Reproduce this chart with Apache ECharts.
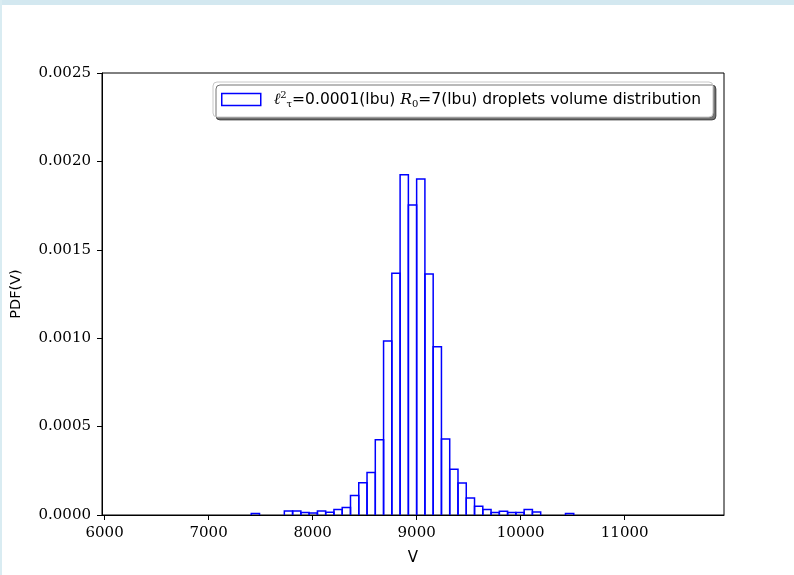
<!DOCTYPE html>
<html>
<head>
<meta charset="utf-8">
<title>Droplet volume distribution</title>
<script src="https://cdn.jsdelivr.net/npm/echarts@6/dist/echarts.min.js"></script>
<style>
  html, body { margin: 0; padding: 0; background: #ffffff; }
  #chart { width: 794px; height: 575px; }
</style>
</head>
<body>
<div id="chart"></div>
<script>
// Histogram of droplet volumes (probability density)
const binStart = 7410;      // left edge of the first bin
const binWidth = 79.5;      // bin width in volume units
const pdfValues = [
  0.000008, 0, 0, 0,
  0.0000227, 0.0000227, 0.0000136, 0.000011, 0.0000227, 0.000015,
  0.0000306, 0.0000419, 0.00011, 0.000182, 0.00024, 0.000425,
  0.000984, 0.001367, 0.001924, 0.001754, 0.0019, 0.001363,
  0.000951, 0.00043, 0.000259, 0.000181, 0.0000963, 0.0000493,
  0.0000306, 0.0000136, 0.000021, 0.0000136, 0.0000136, 0.000031,
  0.000017, 0, 0, 0, 0.000008
];
const xTicks = [6000, 7000, 8000, 9000, 10000, 11000];
const yTicks = [0, 0.0005, 0.001, 0.0015, 0.002, 0.0025];
const seriesName = 'droplets';

const binData = pdfValues.map((v, i) => [binStart + i * binWidth, binStart + (i + 1) * binWidth, v]);

const serif = 'DejaVu Serif';
const sans = 'DejaVu Sans';

const chart = echarts.init(document.getElementById('chart'), null, { renderer: 'canvas' });
chart.setOption({
  animation: false,
  backgroundColor: '#ffffff',
  graphic: [
    { type: 'rect', left: 0, top: 0, shape: { width: 794, height: 5 }, style: { fill: '#d3e8f0' }, silent: true },
    { type: 'rect', left: 0, top: 0, shape: { width: 2, height: 575 }, style: { fill: '#d9ecf2' }, silent: true }
  ],
  grid: {
    left: 102, right: 70, top: 73, bottom: 60,
    show: true, borderColor: '#000', borderWidth: 1, backgroundColor: 'transparent'
  },
  legend: {
    left: 213, top: 82,
    padding: [8, 12, 8, 8],
    itemWidth: 39, itemHeight: 12,
    backgroundColor: '#ffffff',
    borderColor: '#c8c8c8', borderWidth: 1, borderRadius: 4,
    shadowColor: 'rgba(0,0,0,0.55)', shadowOffsetX: 3, shadowOffsetY: 3, shadowBlur: 0,
    data: [{ name: seriesName, icon: 'rect',
      itemStyle: { color: 'rgba(255,255,255,0)', borderColor: '#0000ff', borderWidth: 1.5 } }],
    formatter: () => '{it|ℓ}{sup|2}{sub|τ}{n|=0.0001(lbu) }{it|R}{sub|0}{n|=7(lbu) droplets volume distribution}',
    textStyle: {
      color: '#000', fontFamily: sans, fontSize: 15.5, padding: [0, 0, 0, 8],
      rich: {
        n: { fontFamily: sans, fontSize: 15.5, color: '#000', lineHeight: 19 },
        it: { fontFamily: serif, fontStyle: 'italic', fontSize: 15.5, color: '#000', lineHeight: 19 },
        sup: { fontFamily: serif, fontSize: 10, color: '#000', verticalAlign: 'top', lineHeight: 19 },
        sub: { fontFamily: serif, fontSize: 10, color: '#000', verticalAlign: 'bottom', lineHeight: 17 }
      }
    }
  },
  xAxis: {
    type: 'value', min: 5975, max: 11955,
    name: 'V', nameLocation: 'middle', nameGap: 36,
    nameTextStyle: { fontFamily: sans, fontSize: 15, color: '#000' },
    axisLine: { show: true, lineStyle: { color: '#000', width: 1 } },
    axisTick: { show: true, inside: false, length: 5, lineStyle: { color: '#000', width: 1 }, customValues: xTicks },
    axisLabel: { fontFamily: serif, fontSize: 15, color: '#000', margin: 11, customValues: xTicks,
      formatter: v => String(v) },
    splitLine: { show: false }
  },
  yAxis: {
    type: 'value', min: 0, max: 0.0025, interval: 0.0005,
    name: 'PDF(V)', nameLocation: 'middle', nameGap: 78,
    nameTextStyle: { fontFamily: sans, fontSize: 14.5, color: '#000' },
    axisLine: { show: true, lineStyle: { color: '#000', width: 1 } },
    axisTick: { show: true, inside: false, length: 5, lineStyle: { color: '#000', width: 1 }, customValues: yTicks },
    axisLabel: { fontFamily: serif, fontSize: 15, color: '#000', margin: 11, customValues: yTicks,
      formatter: v => v.toFixed(4) },
    splitLine: { show: false }
  },
  series: [{
    name: seriesName,
    type: 'custom',
    encode: { x: [0, 1], y: 2 },
    data: binData,
    itemStyle: { color: '#0000ff' },
    renderItem: (params, api) => {
      const x0 = api.value(0), x1 = api.value(1), y = api.value(2);
      if (!(y > 0)) return null;
      const pts = [api.coord([x0, 0]), api.coord([x0, y]), api.coord([x1, y]), api.coord([x1, 0])];
      return {
        type: 'polyline',
        shape: { points: pts },
        style: { fill: null, stroke: '#0000ff', lineWidth: 1.5 }
      };
    }
  }]
});
</script>
</body>
</html>
